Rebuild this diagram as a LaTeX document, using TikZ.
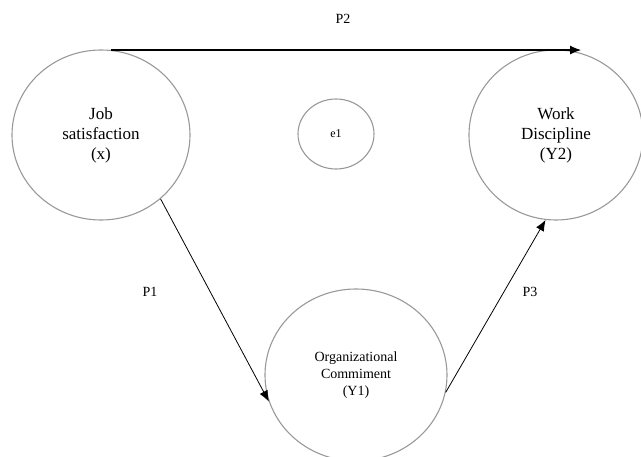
\documentclass[tikz,border=0pt]{standalone}
\usepackage{fontspec}
\setmainfont{Liberation Serif}
\usetikzlibrary{shapes.geometric,arrows.meta}

\begin{document}
\begin{tikzpicture}[x=1pt,y=-1pt]
\tikzstyle{latent}=[ellipse, draw=black!40, line width=1.1pt, inner sep=0pt, align=center, font=\fontsize{17}{20}\selectfont]
\tikzstyle{path}=[-{Latex[length=11pt,width=9pt]}, black, line width=0.8pt]
\tikzstyle{lbl}=[font=\fontsize{14}{16}\selectfont]
\useasboundingbox (0,0) rectangle (641,457);

\node[latent, minimum width=178pt, minimum height=170pt] (job) at (101,135) {Job\\satisfaction\\(x)};
\node[latent, minimum width=76pt, minimum height=70pt, font=\fontsize{12}{14}\selectfont] (e1) at (336,134) {e1};
\node[latent, minimum width=174pt, minimum height=170pt] (work) at (556,135) {Work\\Discipline\\(Y2)};
\node[latent, minimum width=182pt, minimum height=172pt, font=\fontsize{14}{17}\selectfont] (org) at (356,375) {Organizational\\Commiment\\(Y1)};

\node[lbl] (p2) at (343,19) {P2};
\node[lbl] (p1) at (150,292) {P1};
\node[lbl] (p3) at (530,292) {P3};

\draw[path, line width=1.1pt] (job.83) -- (job.83 -| work.73);
\draw[path] (job.-47) -- (org.197);
\draw[path] (org.-11) -- (work.263);

\end{tikzpicture}
\end{document}
